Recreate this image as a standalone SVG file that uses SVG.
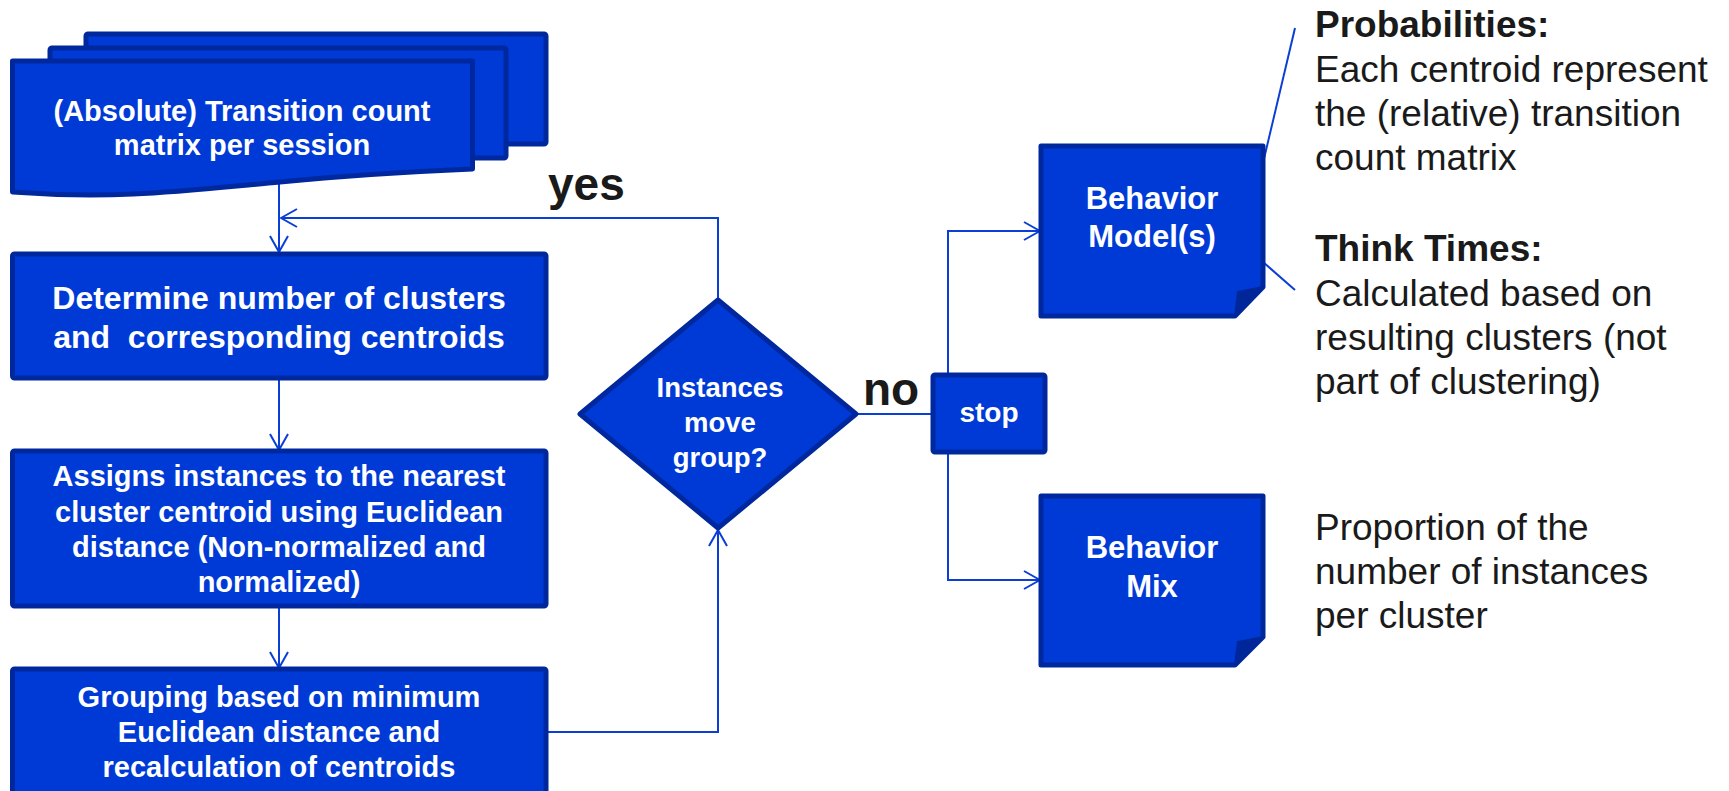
<svg xmlns="http://www.w3.org/2000/svg" width="1729" height="791" viewBox="0 0 1729 791">
  <style>
    .box { fill: #003ad6; stroke: #00289e; stroke-width: 5; stroke-linejoin: round; }
    .fold { fill: #00279a; stroke: #00279a; stroke-width: 2; stroke-linejoin: round; }
    .lbl { font-family: "Liberation Sans", Arial, sans-serif; font-weight: bold; fill: #ffffff; text-anchor: middle; }
    .edge { fill: none; stroke: #0a3ed4; stroke-width: 2; }
    .tag { font-family: "Liberation Sans", Arial, sans-serif; font-weight: bold; font-size: 46px; fill: #1a1a1a; }
    .note { font-family: "Liberation Sans", Arial, sans-serif; font-size: 37px; fill: #1a1a1a; }
    .note .hd { font-weight: bold; }
  </style>
  <defs>
    <marker id="arrow" viewBox="0 0 18 20" refX="17" refY="10" markerWidth="18" markerHeight="20" markerUnits="userSpaceOnUse" orient="auto">
      <path d="M1,1 L17,10 L1,19" fill="none" stroke="#0a3ed4" stroke-width="2"/>
    </marker>
  </defs>
  <rect width="1729" height="791" fill="#ffffff"/>

  <!-- connectors -->
  <g id="connectors">
    <path class="edge" d="M279,182 V252" marker-end="url(#arrow)"/>
    <path class="edge" d="M718,300 V218 H281" marker-end="url(#arrow)"/>
    <path class="edge" d="M279,378 V450" marker-end="url(#arrow)"/>
    <path class="edge" d="M279,606 V668" marker-end="url(#arrow)"/>
    <path class="edge" d="M546,732 H718 V530" marker-end="url(#arrow)"/>
    <path class="edge" d="M856,414 H933"/>
    <path class="edge" d="M948,375 V231 H1040" marker-end="url(#arrow)"/>
    <path class="edge" d="M948,452 V580 H1040" marker-end="url(#arrow)"/>
    <path class="edge" d="M1263,163 L1295,28"/>
    <path class="edge" d="M1263,262 L1295,290"/>
  </g>

  <!-- stacked documents: transition count matrices -->
  <g id="node-matrix">
    <rect class="box" x="86" y="34" width="460" height="110" rx="2"/>
    <rect class="box" x="50" y="48" width="456" height="110" rx="2"/>
    <path class="box" d="M12.5,61 H472.5 V169 C400,172 340,176 280,182 C190,190 120,200 12.5,192 Z"/>
    <text class="lbl" font-size="29" x="242" y="121">(Absolute) Transition count</text>
    <text class="lbl" font-size="29" x="242" y="155">matrix per session</text>
  </g>

  <g id="node-determine">
    <rect class="box" x="12.5" y="254" width="533.5" height="124" rx="2"/>
    <text class="lbl" font-size="32" x="279" y="309">Determine number of clusters</text>
    <text class="lbl" font-size="32" x="279" y="348" xml:space="preserve">and  corresponding centroids</text>
  </g>

  <g id="node-assign">
    <rect class="box" x="12.5" y="451" width="533.5" height="155" rx="2"/>
    <text class="lbl" font-size="29" x="279" y="486">Assigns instances to the nearest</text>
    <text class="lbl" font-size="29" x="279" y="522">cluster centroid using Euclidean</text>
    <text class="lbl" font-size="29" x="279" y="557">distance (Non-normalized and</text>
    <text class="lbl" font-size="29" x="279" y="592">normalized)</text>
  </g>

  <g id="node-grouping">
    <rect class="box" x="12.5" y="669" width="533.5" height="140" rx="2"/>
    <text class="lbl" font-size="29" x="279" y="707">Grouping based on minimum</text>
    <text class="lbl" font-size="29" x="279" y="742">Euclidean distance and</text>
    <text class="lbl" font-size="29" x="279" y="777">recalculation of centroids</text>
  </g>

  <g id="node-decision">
    <polygon class="box" points="718,300 856,414 718,528 580,414"/>
    <text class="lbl" font-size="27.5" x="720" y="397">Instances</text>
    <text class="lbl" font-size="27.5" x="720" y="432">move</text>
    <text class="lbl" font-size="27.5" x="720" y="467">group?</text>
  </g>

  <g id="label-yes"><text class="tag" x="548" y="200">yes</text></g>
  <g id="label-no"><text class="tag" x="863" y="405">no</text></g>

  <g id="node-stop">
    <rect class="box" x="933" y="375" width="112" height="77" rx="2"/>
    <text class="lbl" font-size="28" x="989" y="422">stop</text>
  </g>

  <g id="node-model">
    <path class="box" d="M1041,146 H1263 V287 L1235,316 H1041 Z"/>
    <path class="fold" d="M1263,287 L1238,292 L1235,316 Z"/>
    <text class="lbl" font-size="31" x="1152" y="209">Behavior</text>
    <text class="lbl" font-size="31" x="1152" y="247">Model(s)</text>
  </g>

  <g id="node-mix">
    <path class="box" d="M1041,496 H1263 V637 L1235,665 H1041 Z"/>
    <path class="fold" d="M1263,637 L1238,642 L1235,665 Z"/>
    <text class="lbl" font-size="31" x="1152" y="558">Behavior</text>
    <text class="lbl" font-size="31" x="1152" y="597">Mix</text>
  </g>

  <g id="note-model" class="note">
    <text x="1315" y="37" class="hd">Probabilities:</text>
    <text x="1315" y="82">Each centroid represent</text>
    <text x="1315" y="126">the (relative) transition</text>
    <text x="1315" y="170">count matrix</text>
    <text x="1315" y="261" class="hd">Think Times:</text>
    <text x="1315" y="306">Calculated based on</text>
    <text x="1315" y="350">resulting clusters (not</text>
    <text x="1315" y="394">part of clustering)</text>
  </g>

  <g id="note-mix" class="note">
    <text x="1315" y="540">Proportion of the</text>
    <text x="1315" y="584">number of instances</text>
    <text x="1315" y="628">per cluster</text>
  </g>
</svg>
